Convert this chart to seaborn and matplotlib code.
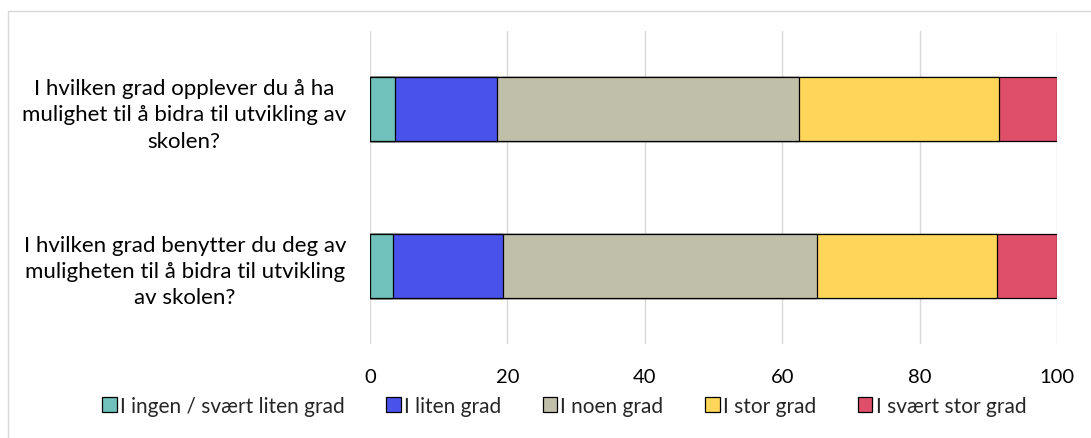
import matplotlib
matplotlib.use("Agg")
import matplotlib.pyplot as plt
from matplotlib.lines import Line2D
import numpy as np
import seaborn as sns

questions = [
    "I hvilken grad opplever du å ha\nmulighet til å bidra til utvikling av\nskolen?",
    "I hvilken grad benytter du deg av\nmuligheten til å bidra til utvikling\nav skolen?",
]
categories = ["I ingen / svært liten grad", "I liten grad", "I noen grad",
              "I stor grad", "I svært stor grad"]
# percent per answer category, one list per question
q1_values = [3.7, 14.8, 43.9, 29.2, 8.4]
q2_values = [3.4, 15.9, 45.8, 26.2, 8.7]
colors = ["#70C1BB", "#4952EB", "#BFBFAA", "#FFD65A", "#DF4F69"]

sns.set_theme(style="white")
plt.rcParams["font.family"] = ["Lato", "DejaVu Sans"]

values = np.array([q1_values, q2_values])
cum = values.cumsum(axis=1)

fig = plt.figure(figsize=(10.91, 4.39), dpi=100)
ax = fig.add_axes([370 / 1091, 1 - 345 / 439, 687 / 1091, 313 / 439])

# stacked bars: draw cumulative totals from the longest down
for i in reversed(range(len(categories))):
    sns.barplot(x=cum[:, i], y=questions, orient="h", color=colors[i],
                saturation=1, width=0.41, edgecolor="black", linewidth=0.9,
                label=categories[i], ax=ax, zorder=3)

ax.set_xlim(0, 100)
ax.set_xticks([0, 20, 40, 60, 80, 100])
ax.grid(axis="x", color="#D9D9D9", linewidth=1.0, zorder=0)
ax.grid(axis="y", visible=False)
for s in ax.spines.values():
    s.set_visible(False)
ax.set_xlabel("")
ax.set_ylabel("")
ax.tick_params(axis="x", length=0, pad=17, labelsize=14.5, colors="#000000")
ax.tick_params(axis="y", length=0, pad=17, labelsize=16, colors="#000000")
for lab in ax.get_yticklabels():
    lab.set_multialignment("center")
    lab.set_linespacing(1.4)

handles, labels = ax.get_legend_handles_labels()
if ax.get_legend() is not None:
    ax.get_legend().remove()
order = list(reversed(range(len(handles))))
fig.legend([handles[k] for k in order], [labels[k] for k in order],
           loc="center", bbox_to_anchor=(0.517, 1 - 407 / 439), ncol=5,
           frameon=False, fontsize=15, handlelength=0.7, handleheight=0.7,
           handletextpad=0.15, columnspacing=2.0, borderaxespad=0)

# chart frame (only top and left edges fall inside the image)
fig.add_artist(Line2D([8 / 1091, 1.0], [1 - 12 / 439, 1 - 12 / 439],
                      color="#D9D9D9", linewidth=1.0, transform=fig.transFigure))
fig.add_artist(Line2D([8 / 1091, 8 / 1091], [0, 1 - 12 / 439],
                      color="#D9D9D9", linewidth=1.0, transform=fig.transFigure))

fig.savefig("out.png", dpi=100)
